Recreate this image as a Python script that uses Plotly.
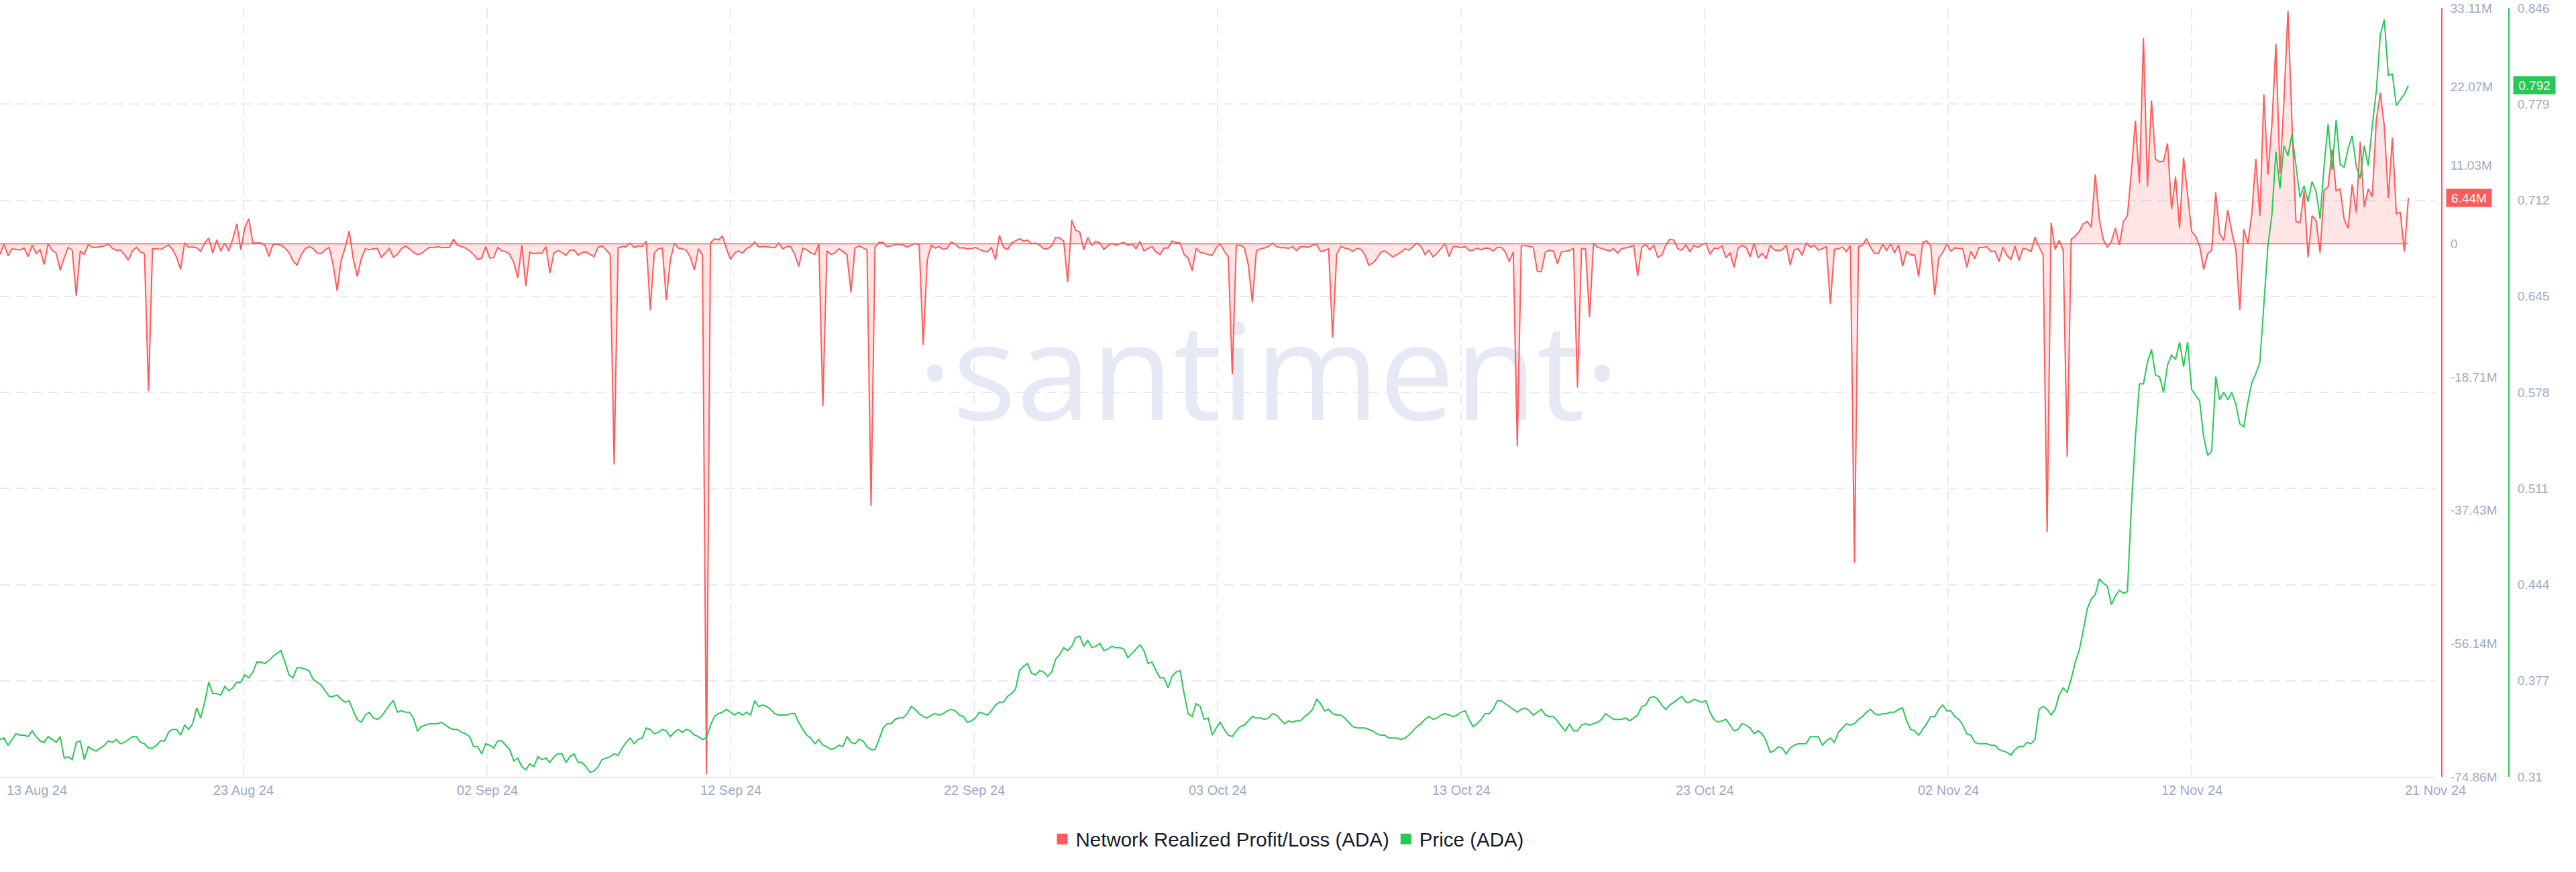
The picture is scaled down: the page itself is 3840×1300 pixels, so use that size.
import pandas as pd
import plotly.graph_objects as go

# ---------------- data (4-hourly, starting 13 Aug 2024) ----------------
series_start = "2024-08-13 00:00"
series_step = "4h"

# Network Realized Profit/Loss (ADA), millions
pnl_aug_sep = [
    -1.5, 0.0, -1.7, -0.7, -0.8, -0.85, -0.6, -1.8, -0.2, -1.35,
    -0.85, -2.9, 0.0, -0.9, -1.3, -3.7, -2.0, -0.5, -0.9, -7.3,
    -1.0, -1.5, -0.1, -0.5, -0.5, -0.4, -0.3, 0.0, -0.65, -0.9,
    -0.85, -1.5, -2.3, -1.0, -0.5, -1.15, -1.4, -20.7, -0.7, -0.7,
    -0.8, -0.5, -0.15, -0.8, -1.9, -3.6, 0.15, -0.5, -0.45, -0.55,
    -1.1, 0.1, 0.8, -1.3, 0.55, -1.0, 0.1, -1.0, 0.7, 2.8,
    -0.85, 2.3, 3.5, 0.1, 0.1, 0.1, -0.2, -1.8, -0.06, -0.06,
    -0.2, -0.6, -1.2, -2.4, -3.0, -1.6, -0.7, -0.4, -0.65, -1.3,
    -1.4, -0.85, -0.5, -3.0, -6.6, -2.3, -0.5, 1.8, -2.1, -4.6,
    -2.1, -0.7, -0.85, -0.7, -0.65, -1.9, -1.3, -0.65, -1.9, -1.5,
    -0.7, -0.3, -0.7, -1.2, -1.5, -1.35, -0.9, -0.5, -0.55, -0.4,
    -0.55, -0.5, -0.5, 0.65, -0.2, -0.4, -0.6, -1.0, -1.5, -2.2,
    -2.0, -0.4, -2.0, -1.95, -0.5, -1.0, -1.1, -1.5, -2.6, -4.8,
    -0.2, -5.9, -1.2, -1.4, -1.3, -1.35, -0.4, -4.1, -1.3, -0.95,
    -1.2, -1.6, -0.9, -0.85, -1.6, -1.25, -1.15, -1.5, -1.8, -0.5,
    -0.3, -0.85, -1.5, -31.0, -0.55, -0.4, -0.4, 0.1, -0.55, -0.3,
    -0.35, 0.35, -9.3, -1.3, -0.7, -0.6, -7.9, -2.3, 0.1, -0.6,
    -0.7, -0.9, -1.9, -3.7, -0.7, -1.6, -74.5, 0.1, 0.7, 0.55,
    1.1, -0.7, -2.2, -1.3, -1.0, -1.3, -0.65, -0.4, 0.25, -0.4,
    -0.4, -0.4, -0.5, -0.55, 0.1, -0.7, -0.4, -0.4, -1.5, -3.2,
    -0.6, -0.85, -1.3, -1.5, 0.0, -22.8, -1.0, -1.5, -1.3, -0.7,
    -1.1, -1.5, -6.8, -0.6, -0.3, -0.6, -0.85,
]
pnl_sep_oct = [
    -36.8, -0.5, 0.2, 0.2, -0.4, -0.3, -0.1, -0.1, -0.2, -0.45,
    -0.2, 0.05, -0.15, -14.2, -2.3, -0.2, -0.6, -0.4, -0.8, -0.6,
    0.25, -0.06, -0.6, -0.55, -0.7, -0.7, -0.5, -0.8, -1.0, -1.15,
    -0.55, -2.2, 1.2, -0.5, -0.8, 0.1, 0.4, 0.7, 0.4, 0.5,
    0.0, 0.1, -0.15, -0.7, -0.7, -0.3, 0.9, 0.8, 0.4, -5.4,
    3.3, 1.9, 1.65, -0.85, 0.9, -0.2, 0.35, 0.15, -0.8, -0.3,
    0.1, -0.2, 0.03, 0.2, -0.2, 0.0, -0.7, 0.35, -1.0, -0.65,
    -0.4, -1.15, -1.5, -0.6, -0.6, 0.4, 0.15, 0.1, -1.5, -2.0,
    -3.8, -0.65, -1.2, -1.35, -1.5, -1.65, -0.55, 0.03, -1.05, -1.8,
    -18.3, -0.2, -0.2, -0.55, -3.0, -8.2, -1.0, -0.7, -0.6, -0.4,
    0.1, -0.4, -0.55, -0.55, -0.65, -0.4, -0.95, -0.4, -0.4, -0.5,
    -0.2, -0.06, -1.1, -0.95, -0.7, -13.2, -1.5, -0.4, -0.6, -0.7,
    -1.1, -0.65, -0.75, -1.5, -3.0, -2.7, -2.1, -1.2, -1.0, -1.4,
    -1.85, -1.5, -1.2, -0.7, -0.9, -0.4, 0.1, -0.35, -1.5, -0.9,
    -1.85, -1.35, -0.7, 0.03, -1.8, -0.4, -0.4, -0.55, -0.4, -0.9,
    -0.9, -0.6, -0.85, -0.6, -0.65, -1.0, -0.5, -0.5, -1.15, -2.5,
    -1.15, -28.4, -0.3, -0.25, -0.35, -0.5, -3.9, -3.9, -1.15, -0.9,
    -1.0, -2.8, -1.15, -1.05, -0.95, -0.6, -20.2, -0.7, -0.7, -10.3,
    0.1, -0.5, -0.65, -0.85, -1.0, -0.7, -1.3, -0.7, -0.6, -0.45,
    -0.25, -4.5, -0.5, -0.1, -0.85, -0.2, -1.9, -1.6, -0.2, 0.65,
]
pnl_oct_nov = [
    0.53, -0.72, -0.88, -0.16, -1.1, -0.22, -0.53, -0.09, 0.09, -1.48,
    -0.63, -0.69, -0.31, -1.98, -1.26, -3.3, -0.63, -0.22, -0.53, -1.82,
    0.09, -1.98, -1.35, -2.1, -0.22, -0.85, -0.94, -0.85, -0.22, -2.98,
    -0.85, -0.69, -1.63, 0.16, -0.47, -0.22, -0.88, -0.69, -0.41, -8.48,
    -0.78, -0.69, -0.47, -1.1, -0.22, -44.8, -0.41, -0.22, 0.72, -0.47,
    -1.35, -1.35, -0.09, -0.94, 0.0, -1.26, -0.16, -3.14, -1.1, -1.57,
    -1.57, -4.6, 0.16, 0.41, -0.31, -7.2, -1.98, -1.26, 0.0, -1.04,
    -0.57, -0.63, -0.72, -3.3, -1.04, -2.1, -0.53, -0.53, -0.41, -1.1,
    -1.04, -2.5, -0.47, -1.66, -2.2,
]
pnl_nov = [
    -0.31, -2.36, -0.63, -0.8, -1.1, 0.94, -0.47, -1.57, -40.5, 2.98,
    -0.79, 0.47, -0.94, -29.9, 0.63, 1.1, 1.73, 2.83, 3.14, 2.36,
    9.73, 3.45, 0.63, -0.47, 0.31, 2.2, -0.16, 3.14, 3.93, 10.2,
    17.3, 8.48, 28.9, 8.0, 20.1, 11.9, 11.5, 11.6, 14.1, 4.87,
    9.42, 2.2, 12.1, 6.75, 1.73, 1.1, -0.31, -3.6, -1.41, -0.94,
    7.22, 1.41, 0.47, 4.71, 1.73, -0.79, -9.3, 2.04, 0.0, 4.24,
    11.9, 3.93, 21.0, 9.73, 16.8, 28.1, 9.85, 20.0, 32.7, 17.0,
    3.1, 2.98, 7.38, -1.88, 3.93, 3.3, -1.26, 7.54, 8.0, 13.3,
    7.44, 7.7, 3.45, 2.2, 8.32, 4.4, 14.3, 5.18, 7.7, 6.6,
    17.3, 21.2, 16.5, 6.44, 14.9, 4.24, 4.4, -1.1, 6.44,
]

# Price (ADA), USD
price_aug_sep = [
    0.336, 0.337, 0.332, 0.336, 0.340, 0.339, 0.339, 0.338, 0.342, 0.338,
    0.335, 0.334, 0.338, 0.336, 0.334, 0.338, 0.323, 0.324, 0.322, 0.334,
    0.335, 0.322, 0.331, 0.329, 0.328, 0.330, 0.332, 0.335, 0.334, 0.336,
    0.333, 0.334, 0.336, 0.338, 0.338, 0.334, 0.333, 0.330, 0.330, 0.332,
    0.335, 0.335, 0.341, 0.343, 0.343, 0.339, 0.346, 0.343, 0.347, 0.358,
    0.351, 0.362, 0.376, 0.368, 0.368, 0.367, 0.373, 0.370, 0.372, 0.376,
    0.376, 0.381, 0.379, 0.383, 0.390, 0.390, 0.389, 0.391, 0.394, 0.396,
    0.398, 0.390, 0.381, 0.379, 0.386, 0.386, 0.385, 0.384, 0.378, 0.376,
    0.374, 0.370, 0.366, 0.366, 0.367, 0.364, 0.362, 0.363, 0.356, 0.350,
    0.348, 0.353, 0.355, 0.351, 0.350, 0.352, 0.356, 0.360, 0.363, 0.355,
    0.356, 0.355, 0.355, 0.351, 0.342, 0.345, 0.346, 0.347, 0.347, 0.347,
    0.348, 0.346, 0.344, 0.343, 0.343, 0.341, 0.340, 0.338, 0.331, 0.331,
    0.326, 0.333, 0.332, 0.330, 0.335, 0.335, 0.332, 0.329, 0.321, 0.323,
    0.317, 0.315, 0.319, 0.317, 0.324, 0.322, 0.323, 0.320, 0.324, 0.326,
    0.326, 0.320, 0.324, 0.326, 0.320, 0.320, 0.317, 0.313, 0.314, 0.317,
    0.322, 0.323, 0.324, 0.326, 0.325, 0.330, 0.334, 0.337, 0.333, 0.336,
    0.337, 0.344, 0.343, 0.340, 0.341, 0.343, 0.342, 0.338, 0.341, 0.343,
    0.341, 0.343, 0.342, 0.339, 0.338, 0.336, 0.337, 0.346, 0.352, 0.354,
    0.355, 0.357, 0.355, 0.353, 0.355, 0.353, 0.355, 0.353, 0.363, 0.359,
    0.360, 0.359, 0.357, 0.354, 0.353, 0.353, 0.353, 0.354, 0.354, 0.348,
    0.343, 0.339,
]
price_sep_oct = [
    0.337, 0.333, 0.336, 0.332, 0.331, 0.329, 0.330, 0.332, 0.331, 0.338,
    0.334, 0.333, 0.336, 0.335, 0.331, 0.329, 0.329, 0.336, 0.344, 0.347,
    0.347, 0.350, 0.351, 0.351, 0.354, 0.359, 0.357, 0.354, 0.352, 0.351,
    0.353, 0.354, 0.353, 0.354, 0.356, 0.357, 0.356, 0.353, 0.352, 0.348,
    0.349, 0.351, 0.355, 0.354, 0.353, 0.356, 0.360, 0.362, 0.362, 0.366,
    0.368, 0.371, 0.384, 0.387, 0.389, 0.382, 0.381, 0.384, 0.383, 0.380,
    0.383, 0.392, 0.395, 0.400, 0.398, 0.401, 0.407, 0.408, 0.401, 0.405,
    0.400, 0.401, 0.403, 0.398, 0.399, 0.401, 0.400, 0.400, 0.399, 0.393,
    0.396, 0.399, 0.402, 0.398, 0.389, 0.390, 0.384, 0.379, 0.379, 0.372,
    0.380, 0.383, 0.384, 0.368, 0.354, 0.352, 0.361, 0.359, 0.350, 0.351,
    0.339, 0.344, 0.348, 0.343, 0.339, 0.338, 0.342, 0.345, 0.346, 0.349,
    0.352, 0.351, 0.351, 0.350, 0.351, 0.354, 0.353, 0.350, 0.347, 0.349,
    0.348, 0.349, 0.349, 0.352, 0.354, 0.357, 0.364, 0.361, 0.356, 0.357,
    0.354, 0.353, 0.353, 0.351, 0.348, 0.345, 0.344, 0.344, 0.344, 0.343,
    0.342, 0.340, 0.339, 0.339, 0.337, 0.337, 0.337, 0.336, 0.337, 0.339,
    0.342, 0.345, 0.347, 0.350, 0.352, 0.350, 0.351, 0.353, 0.354, 0.353,
    0.352, 0.353, 0.355, 0.356, 0.350, 0.345, 0.347, 0.350, 0.354, 0.354,
    0.357, 0.363, 0.363, 0.361, 0.359, 0.357, 0.355, 0.357, 0.358, 0.356,
    0.353, 0.355, 0.357, 0.353, 0.352, 0.352, 0.349, 0.345, 0.342, 0.347,
    0.342, 0.342, 0.346, 0.347, 0.346, 0.347, 0.348, 0.350, 0.354, 0.352,
    0.350, 0.350, 0.350,
]
price_oct_nov = [
    0.351, 0.349, 0.351, 0.353, 0.359, 0.360, 0.365, 0.366, 0.364, 0.360,
    0.357, 0.360, 0.362, 0.364, 0.366, 0.362, 0.362, 0.364, 0.363, 0.362,
    0.363, 0.355, 0.350, 0.348, 0.349, 0.350, 0.346, 0.342, 0.343, 0.347,
    0.346, 0.344, 0.340, 0.342, 0.340, 0.335, 0.327, 0.328, 0.331, 0.330,
    0.326, 0.330, 0.332, 0.333, 0.333, 0.333, 0.338, 0.338, 0.338, 0.332,
    0.335, 0.337, 0.334, 0.341, 0.344, 0.347, 0.346, 0.347, 0.350, 0.352,
    0.355, 0.357, 0.354, 0.353, 0.354, 0.354, 0.355, 0.355, 0.357, 0.358,
    0.349, 0.343, 0.342, 0.339, 0.343, 0.347, 0.352, 0.352, 0.357, 0.360,
    0.356, 0.356, 0.352, 0.350, 0.346, 0.340, 0.339, 0.334, 0.333, 0.333,
    0.333, 0.332, 0.332, 0.329, 0.328, 0.327, 0.325, 0.329, 0.331, 0.331,
    0.334, 0.333, 0.336, 0.357, 0.359, 0.357, 0.353, 0.357, 0.367, 0.372,
    0.369, 0.378, 0.390, 0.398, 0.412, 0.427, 0.434, 0.437, 0.448, 0.445,
    0.443, 0.430, 0.436, 0.440, 0.438, 0.439, 0.499, 0.547, 0.584, 0.584,
    0.599, 0.608, 0.590, 0.589, 0.578, 0.597, 0.604, 0.601, 0.613, 0.596,
    0.613, 0.580, 0.576, 0.572, 0.547, 0.534, 0.537, 0.589, 0.573, 0.578,
    0.573, 0.578, 0.570, 0.556, 0.554, 0.571, 0.585, 0.591, 0.599,
]
price_nov = [
    0.641, 0.680, 0.702, 0.746, 0.720, 0.750, 0.743, 0.758, 0.736, 0.714,
    0.722, 0.711, 0.725, 0.718, 0.699, 0.736, 0.765, 0.733, 0.768, 0.737,
    0.735, 0.748, 0.757, 0.736, 0.727, 0.750, 0.736, 0.764, 0.788, 0.827,
    0.838, 0.799, 0.800, 0.778, 0.782, 0.786, 0.792,
]

x_tick_labels = ["13 Aug 24", "23 Aug 24", "02 Sep 24", "12 Sep 24", "22 Sep 24",
                 "03 Oct 24", "13 Oct 24", "23 Oct 24", "02 Nov 24", "12 Nov 24",
                 "21 Nov 24"]
pnl_tick_values = [33.11, 22.07, 11.03, 0, -18.71, -37.43, -56.14, -74.86]
pnl_tick_labels = ["33.11M", "22.07M", "11.03M", "0", "-18.71M", "-37.43M", "-56.14M", "-74.86M"]
price_tick_values = [0.31, 0.377, 0.444, 0.511, 0.578, 0.645, 0.712, 0.779, 0.846]
price_tick_labels = ["0.31", "0.377", "0.444", "0.511", "0.578", "0.645", "0.712", "0.779", "0.846"]

# ---------------- assemble ----------------
pnl = pnl_aug_sep + pnl_sep_oct + pnl_oct_nov + pnl_nov
price = price_aug_sep + price_sep_oct + price_oct_nov + price_nov
dates = pd.date_range(series_start, periods=len(pnl), freq=series_step)

RED = "#ff5b5b"
GREEN = "#26c953"
AXIS_TXT = "#9faac4"
GRID = "#e7eaf3"
FONT = "Liberation Sans"

W, H = 3840, 1300
PLOT_RIGHT = 3630
M_T, M_B = 12, 142
PLOT_H = H - M_T - M_B

x_start = pd.Timestamp(series_start)
x_end = x_start + pd.Timedelta(days=101.11)
tick_pos = [x_start + (x_end - x_start) * k / (len(x_tick_labels) - 1) for k in range(len(x_tick_labels))]

fig = go.Figure()

# watermark (drawn beneath the series)
fig.add_trace(go.Scatter(
    x=[x_start + (x_end - x_start) * 0.521], y=[-20.0], mode="text",
    text=["·santiment·"],
    textfont=dict(family="Open Sans", size=200, color="#e6e9f3"),
    hoverinfo="skip", showlegend=False, yaxis="y", cliponaxis=False,
))

fig.add_trace(go.Scatter(
    x=dates, y=pnl, mode="lines", name="Network Realized Profit/Loss (ADA)",
    line=dict(color=RED, width=2), fill="tozeroy", fillcolor="rgba(255,91,91,0.16)",
    showlegend=False, yaxis="y",
))
fig.add_trace(go.Scatter(
    x=dates, y=price, mode="lines", name="Price (ADA)",
    line=dict(color=GREEN, width=2), showlegend=False, yaxis="y2",
))

# legend entries (square swatches)
for name, col in [("Network Realized Profit/Loss (ADA)", RED), ("Price (ADA)", GREEN)]:
    fig.add_trace(go.Scatter(
        x=[None], y=[None], mode="markers", name=name,
        marker=dict(symbol="square", size=18, color=col), showlegend=True, yaxis="y",
    ))

annotations = []
for k, (tp, lab) in enumerate(zip(tick_pos, x_tick_labels)):
    annotations.append(dict(
        x=tp, xref="x", y=-(1178 - (H - M_B)) / PLOT_H, yref="paper",
        text=lab, showarrow=False, xanchor="left" if k == 0 else "center", yanchor="middle",
        xshift=8 if k == 0 else 0,
        font=dict(family=FONT, size=20, color=AXIS_TXT),
    ))

# last-value badges
annotations.append(dict(
    x=3646 / W, xref="paper", y=pnl[-1], yref="y", text=f"{pnl[-1]:.2f}M",
    showarrow=False, xanchor="left", yanchor="middle", bgcolor=RED, borderpad=2,
    width=63, height=22, align="center",
    font=dict(family=FONT, size=19, color="white"),
))
annotations.append(dict(
    x=3746 / W, xref="paper", y=price[-1], yref="y2", text=f"{price[-1]:.3f}",
    showarrow=False, xanchor="left", yanchor="middle", bgcolor=GREEN, borderpad=2,
    width=58, height=22, align="center",
    font=dict(family=FONT, size=19, color="white"),
))

fig.update_layout(
    width=W, height=H,
    margin=dict(l=0, r=0, t=M_T, b=M_B, autoexpand=False),
    paper_bgcolor="white", plot_bgcolor="white",
    font=dict(family=FONT, color=AXIS_TXT),
    hovermode=False,
    showlegend=True,
    legend=dict(
        orientation="h", x=0.5, xanchor="center",
        y=-(1251 - (H - M_B)) / PLOT_H, yanchor="middle",
        font=dict(family=FONT, size=29.5, color="#181c2a"),
        itemwidth=30, bgcolor="rgba(0,0,0,0)",
    ),
    xaxis=dict(
        type="date", domain=[0, PLOT_RIGHT / W], range=[x_start, x_end],
        tickmode="array", tickvals=tick_pos, showticklabels=False,
        showgrid=True, gridcolor=GRID, gridwidth=1.5, griddash="15px,9px",
        showline=True, linecolor="#e3e7f0", linewidth=2,
        zeroline=False, ticks="", anchor="y",
    ),
    yaxis=dict(
        range=[-74.86, 33.11], tickmode="array",
        tickvals=pnl_tick_values, ticktext=pnl_tick_labels,
        side="right", anchor="free", position=3640 / W,
        showline=True, linecolor=RED, linewidth=2,
        showgrid=False, zeroline=False, ticks="",
        tickfont=dict(family=FONT, size=19, color=AXIS_TXT),
        ticklabelstandoff=8,
    ),
    yaxis2=dict(
        overlaying="y", range=[0.31, 0.846], tickmode="array",
        tickvals=price_tick_values, ticktext=price_tick_labels,
        side="right", anchor="free", position=3740 / W,
        showline=True, linecolor=GREEN, linewidth=2,
        showgrid=True, gridcolor=GRID, gridwidth=1.5, griddash="15px,9px",
        zeroline=False, ticks="",
        tickfont=dict(family=FONT, size=19, color=AXIS_TXT),
        ticklabelstandoff=8,
    ),
    annotations=annotations,
    shapes=[dict(
        type="line", xref="x", yref="y", x0=dates[0], x1=dates[-1], y0=0, y1=0,
        line=dict(color=RED, width=1.5), layer="below",
    )],
)

fig.write_html("out.html")
